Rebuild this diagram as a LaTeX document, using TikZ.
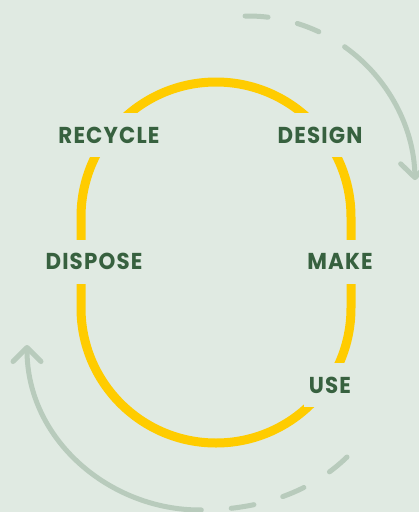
\documentclass[tikz,border=0pt]{standalone}
\usepackage{fontspec}
\setmainfont{Poppins}[LetterSpace=5, FakeStretch=0.93]
\usetikzlibrary{arrows.meta}
\definecolor{bgcol}{HTML}{E0EAE2}
\definecolor{ringcol}{HTML}{FFCC00}
\definecolor{textcol}{HTML}{37613F}
\definecolor{arrowcol}{HTML}{B8CBBC}

\begin{document}
\begin{tikzpicture}[x=1pt,y=-1pt]
            \tikzstyle{stage}=[fill=bgcol, text=textcol, inner xsep=5pt, inner ysep=0pt, minimum height=44pt, font=\fontsize{23}{23}\selectfont\bfseries]
            \tikzstyle{cycle arrow}=[arrowcol, line width=5pt, line cap=round]
            \useasboundingbox [fill=bgcol] (0,0) rectangle (419,512);
            \draw [ringcol, line width=9pt] (81,217) arc [start angle=180, end angle=360, radius=135] -- (351,308) arc [start angle=0, end angle=180, radius=135] -- cycle;
            \node [stage] (recycle) at (109,135) {RECYCLE};
            \node [stage] (design) at (320,135) {DESIGN};
            \node [stage] (dispose) at (94,261.5) {DISPOSE};
            \node [stage] (make) at (340,261.5) {MAKE};
            \node [stage] (use) at (330,385) {USE};
            \coordinate (topc) at (248,183);
            \coordinate (botstart) at (347,457);
            \coordinate (botmid) at (200,510);
            \coordinate (bottip) at (27,345);
            \draw [cycle arrow, dash pattern=on 23pt off 30pt] ([shift={(-91:167)}]topc) arc [start angle=-91, end angle=-54.5, radius=167];
            \draw [cycle arrow, -{Straight Barb[length=14pt, width=28pt, round]}] ([shift={(-54.5:167)}]topc) arc [start angle=-54.5, end angle=-1, radius=167];
            \draw [cycle arrow, dash pattern=on 23pt off 30pt] (botstart) .. controls (312,491) and (262,510) .. (botmid);
            \draw [cycle arrow, -{Straight Barb[length=14pt, width=28pt, round]}] (botmid) .. controls (110,510) and (27,440) .. (bottip);
\end{tikzpicture}
\end{document}
